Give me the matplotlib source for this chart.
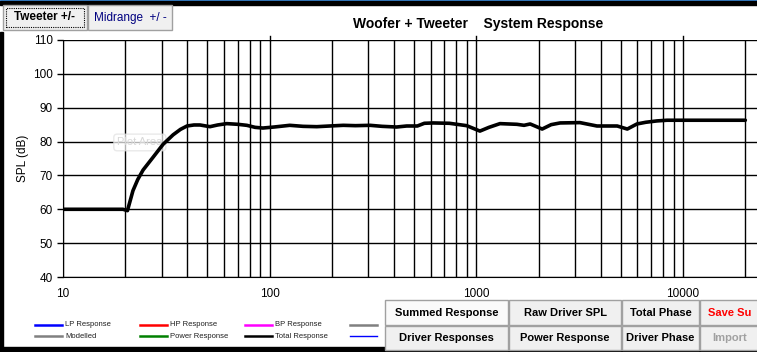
import matplotlib.pyplot as plt
from matplotlib.lines import Line2D
from matplotlib.patches import Rectangle

plt.rcParams['font.family'] = ['Liberation Sans', 'DejaVu Sans']

# summed response
freq = [10, 15, 19.5, 20.5, 21.8, 23, 24.4, 27.3, 30.5, 34.1, 37, 39.8, 43, 46, 51.4, 56,
        62, 70, 77.5, 85, 92.7, 105, 125, 145, 169, 195, 227, 260, 306, 350, 411, 460, 518,
        560, 618, 740, 897, 1040, 1150, 1300, 1570, 1700, 1820, 2080, 2300, 2540, 3170,
        3830, 4800, 5370, 5980, 6600, 7470, 8360, 12000, 20000]
spl = [60, 60, 60, 59.6, 65.5, 68.8, 71.6, 75.4, 79.2, 82.0, 83.6, 84.6, 84.9, 84.9, 84.4,
       84.9, 85.3, 85.1, 84.8, 84.2, 84.0, 84.3, 84.8, 84.5, 84.4, 84.6, 84.8, 84.7, 84.8,
       84.5, 84.3, 84.6, 84.6, 85.4, 85.5, 85.4, 84.7, 83.1, 84.2, 85.3, 85.1, 84.8, 85.2,
       83.7, 85.0, 85.5, 85.6, 84.6, 84.6, 83.7, 85.2, 85.7, 86.1, 86.3, 86.3, 86.3]

yticks = [40, 50, 60, 70, 80, 90, 100, 110]
xticks = [10, 100, 1000, 10000]
xtick_labels = ['10', '100', '1000', '10000']

legend_labels = ['LP Response', 'HP Response', 'BP Response', '',
                 'Modelled', 'Power Response', 'Total Response', '']
legend_colors = ['#0000ff', '#ff0000', '#ff00ff', '#808080',
                 '#808080', '#008000', '#000000', '#0000ff']

buttons_row1 = ['Summed Response', 'Raw Driver SPL', 'Total Phase', 'Save Su']
buttons_row2 = ['Driver Responses', 'Power Response', 'Driver Phase', 'Import']

W, H = 757, 352
fig = plt.figure(figsize=(W / 100, H / 100), dpi=100)

def fx(px):
    return px / W

def fy(py):
    return 1 - py / H

ax = fig.add_axes([fx(63), fy(277), fx(757) - fx(63), fy(40) - fy(277)])
x_right = 10 ** (1 + (757 - 63) / 206.7)
ax.set_xscale('log')
ax.set_xlim(10, x_right)
ax.set_ylim(40, 110)

# grid lines
grid_x = [m * 10 ** d for d in range(1, 4) for m in range(1, 10)] + [10000, 20000]
for gx in grid_x:
    ax.axvline(gx, color='black', lw=1, zorder=1)
for gy in yticks:
    ax.axhline(gy, color='black', lw=1, zorder=1)

ax.plot(freq, spl, color='black', lw=2.6, zorder=3, solid_capstyle='round',
        solid_joinstyle='round')

ax.set_yticks(yticks)
ax.set_xticks(xticks)
ax.set_xticklabels(xtick_labels)
ax.xaxis.set_minor_locator(plt.NullLocator())
ax.tick_params(axis='both', labelsize=8.5, length=4, width=1, color='black')
ax.tick_params(axis='x', length=0, pad=8)
for s in ['top', 'right']:
    ax.spines[s].set_visible(False)
ax.set_ylabel('SPL (dB)', fontsize=8.5, labelpad=3)

# small decade marks above the top line
for t in [100, 1000, 10000]:
    ax.plot([t, t], [110, 111.3], color='black', lw=1, clip_on=False)

# "Plot Area" tooltip ghost
ax.text(0.078, 0.555, 'Plot Area', transform=ax.transAxes, fontsize=8,
        color='#d8d8d8', zorder=2,
        bbox=dict(boxstyle='round,pad=0.3', fc='white', ec='#e0e0e0', alpha=0.7))

fig.text(fx(478), fy(24), 'Woofer + Tweeter    System Response', ha='center',
         va='center', fontsize=10, fontweight='bold')

# window frame
fig.patches.append(Rectangle((0, fy(1.5)), 1, 1.5 / H, transform=fig.transFigure,
                             color='#3c8ee0', zorder=5))
fig.patches.append(Rectangle((0, fy(4.5)), 1, 3 / H, transform=fig.transFigure,
                             color='black', zorder=5))
fig.patches.append(Rectangle((0, 0), fx(3), fy(32), transform=fig.transFigure,
                             color='black', zorder=5))
fig.patches.append(Rectangle((0, 0), 1, 5 / H, transform=fig.transFigure,
                             color='black', zorder=5))

def button(x0, y0, x1, y1, label, color='black', fc='#f0f0f0', bold=False, size=8,
           dotted=False):
    fig.patches.append(Rectangle((fx(x0), fy(y1)), fx(x1) - fx(x0), fy(y0) - fy(y1),
                                 transform=fig.transFigure, fc=fc, ec='#a0a0a0',
                                 lw=1, zorder=6))
    if dotted:
        fig.patches.append(Rectangle((fx(x0 + 3), fy(y1 - 3)), fx(x1 - x0 - 6),
                                     fy(y0 + 3) - fy(y1 - 3), transform=fig.transFigure,
                                     fc='none', ec='black', lw=0.8, ls=(0, (1, 1)),
                                     zorder=7))
    fig.text(fx((x0 + x1) / 2), fy((y0 + y1) / 2), label, ha='center', va='center',
             fontsize=size, color=color, fontweight='bold' if bold else 'normal',
             zorder=7)

# top buttons
button(3, 5, 87, 30, 'Tweeter +/-', bold=True, size=8.5, dotted=True)
button(88, 5, 172, 30, 'Midrange  +/ -', color='#000080', size=8.5)

# bottom buttons
xs = [385, 509, 622, 700, 760]
btn_colors1 = ['black', 'black', 'black', '#ff0000']
btn_colors2 = ['black', 'black', 'black', '#a0a0a0']
for i in range(4):
    fc1 = '#fafafa' if i == 0 else '#f0f0f0'
    button(xs[i], 300, xs[i + 1] - 1, 325, buttons_row1[i], color=btn_colors1[i],
           fc=fc1, bold=True)
    button(xs[i], 326, xs[i + 1] - 1, 350, buttons_row2[i], color=btn_colors2[i],
           bold=True)

# legend
col_x = [35, 140, 245, 350]
row_y = [325, 336]
for i, (lab, col) in enumerate(zip(legend_labels, legend_colors)):
    r, c = divmod(i, 4)
    lw = 1 if (r == 1 and c == 3) else 1.8
    fig.lines.append(Line2D([fx(col_x[c]), fx(col_x[c] + 27)], [fy(row_y[r])] * 2,
                            transform=fig.transFigure, color=col, lw=lw))
    if lab:
        fig.text(fx(col_x[c] + 30), fy(row_y[r]), lab, ha='left', va='center',
                 fontsize=5.5, color='#202020')

fig.savefig('out.png', dpi=100)
